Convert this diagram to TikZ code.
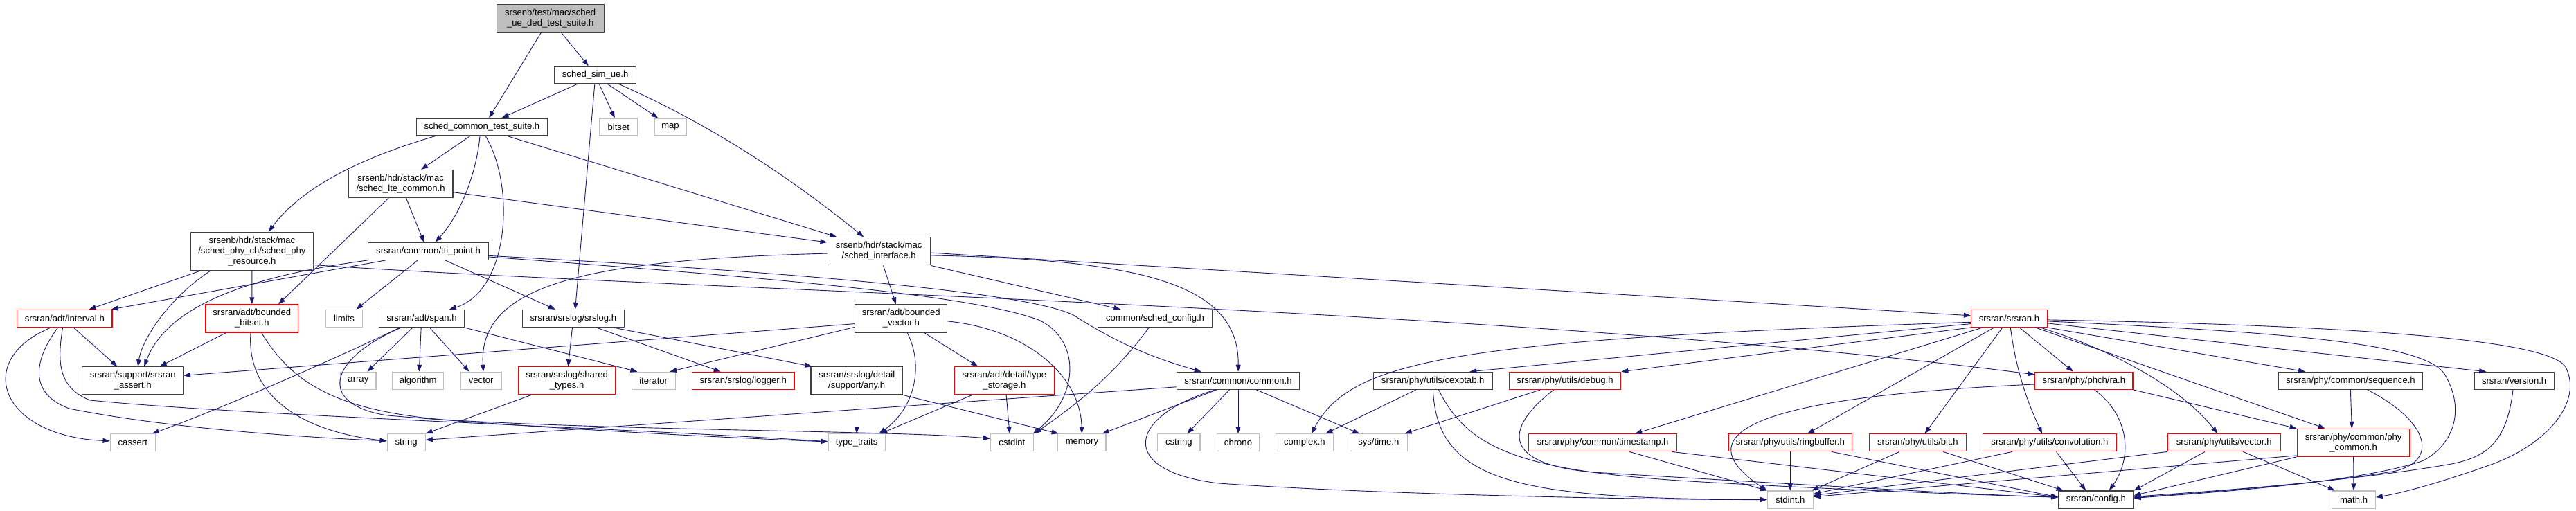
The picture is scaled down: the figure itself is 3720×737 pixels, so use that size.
\documentclass[tikz,border=0pt]{standalone}
\usepackage{fontspec}
\setmainfont{Liberation Sans}
\usetikzlibrary{arrows.meta}
\definecolor{edgec}{HTML}{191970}
\definecolor{gdark}{HTML}{404040}
\definecolor{glight}{HTML}{BFBFBF}
\definecolor{rednode}{HTML}{FF0000}
\newcommand\gfont{\fontsize{13.1}{15}\selectfont}
\begin{document}
\begin{tikzpicture}[x=1pt,y=-1pt,
  box/.style={rectangle,inner sep=0pt,minimum height=25pt,align=center,font=\gfont,line width=1.2pt,fill=white},
  blk/.style={box,draw=gdark},
  gry/.style={box,draw=glight},
  rd/.style={box,draw=rednode},
  topn/.style={box,draw=gdark,fill=glight},
  htwo/.style={minimum height=40pt},
  hthree/.style={minimum height=55pt},
  e/.style={draw=edgec,line width=0.9pt,-{Triangle[length=10pt,width=7pt]}}]
\useasboundingbox (0,0) rectangle (3720,737);
\fill[white] (0,0) rectangle (3720,737);
% nodes
\node[topn,htwo,minimum width=155.1] (top) at (794.7,26.2) {srsenb/test/mac/sched\\\_ue\_ded\_test\_suite.h};
\node[blk,minimum width=117.6] (simue) at (859.6,108.4) {sched\_sim\_ue.h};
\node[blk,minimum width=189.4] (ctest) at (695.9,183.5) {sched\_common\_test\_suite.h};
\node[gry,minimum width=55.1] (bitset) at (893.3,183.5) {bitset};
\node[gry,minimum width=46.1] (map) at (968,183.5) {map};
\node[blk,htwo,minimum width=150.6] (lte) at (578.6,265.5) {srsenb/hdr/stack/mac\\/sched\_lte\_common.h};
\node[blk,hthree,minimum width=176.7] (phyres) at (363.9,362.8) {srsenb/hdr/stack/mac\\/sched\_phy\_ch/sched\_phy\\\_resource.h};
\node[blk,minimum width=173.5] (tti) at (618.6,362.8) {srsran/common/tti\_point.h};
\node[blk,htwo,minimum width=148.2] (iface) at (1269.2,362.8) {srsenb/hdr/stack/mac\\/sched\_interface.h};
\node[rd,minimum width=137.5] (interval) at (93.3,459.9) {srsran/adt/interval.h};
\node[rd,htwo,minimum width=133.6] (bbitset) at (363.8,459.9) {srsran/adt/bounded\\\_bitset.h};
\node[gry,minimum width=53.5] (limits) at (497,459.9) {limits};
\node[blk,minimum width=122.4] (span) at (609,459.9) {srsran/adt/span.h};
\node[blk,minimum width=146.9] (srslog) at (827.8,459.9) {srsran/srslog/srslog.h};
\node[blk,htwo,minimum width=133.1] (bvector) at (1301.3,459.9) {srsran/adt/bounded\\\_vector.h};
\node[blk,minimum width=164.5] (schedcfg) at (1668,459.9) {common/sched\_config.h};
\node[rd,minimum width=109.8] (srsranh) at (2901.4,459.9) {srsran/srsran.h};
\node[blk,htwo,minimum width=145.7] (assert) at (191.7,549.8) {srsran/support/srsran\\\_assert.h};
\node[gry,minimum width=51.1] (array) at (517.4,549.8) {array};
\node[gry,minimum width=74.3] (algorithm) at (603.7,549.8) {algorithm};
\node[gry,minimum width=58.8] (vector) at (694.7,549.8) {vector};
\node[rd,htwo,minimum width=140] (shared) at (818.6,549.8) {srsran/srslog/shared\\\_types.h};
\node[gry,minimum width=62.9] (iterator) at (943.7,549.8) {iterator};
\node[rd,minimum width=147.3] (logger) at (1073.3,549.8) {srsran/srslog/logger.h};
\node[blk,htwo,minimum width=132.3] (any) at (1237.2,549.8) {srsran/srslog/detail\\/support/any.h};
\node[rd,htwo,minimum width=144] (typestor) at (1450.4,549.8) {srsran/adt/detail/type\\\_storage.h};
\node[blk,minimum width=177.5] (commonh) at (1788,549.8) {srsran/common/common.h};
\node[blk,minimum width=171.8] (cexptab) at (2069.2,549.8) {srsran/phy/utils/cexptab.h};
\node[rd,minimum width=161.6] (debug) at (2260,549.8) {srsran/phy/utils/debug.h};
\node[rd,minimum width=141.2] (ra) at (3009.4,549.8) {srsran/phy/phch/ra.h};
\node[blk,minimum width=208.6] (sequence) at (3394.5,549.8) {srsran/phy/common/sequence.h};
\node[blk,minimum width=115.1] (version) at (3630.6,549.8) {srsran/version.h};
\node[gry,minimum width=65.3] (cassert) at (191.8,639.3) {cassert};
\node[gry,minimum width=55.1] (string) at (586.7,639.3) {string};
\node[gry,minimum width=82.5] (typetraits) at (1237.2,639.3) {type\_traits};
\node[gry,minimum width=61.6] (cstdint) at (1461.4,639.3) {cstdint};
\node[gry,minimum width=69.3] (memory) at (1562.4,639.3) {memory};
\node[gry,minimum width=61.3] (cstring) at (1702.4,639.3) {cstring};
\node[gry,minimum width=61.7] (chrono) at (1788,639.3) {chrono};
\node[gry,minimum width=82.9] (complex) at (1883.9,639.3) {complex.h};
\node[gry,minimum width=82.8] (systime) at (1990.8,639.3) {sys/time.h};
\node[rd,minimum width=213.4] (timestamp) at (2314.5,639.3) {srsran/phy/common/timestamp.h};
\node[rd,minimum width=178.8] (ringbuf) at (2585.3,639.3) {srsran/phy/utils/ringbuffer.h};
\node[rd,minimum width=140.4] (bit) at (2769.4,639.3) {srsran/phy/utils/bit.h};
\node[rd,minimum width=192.3] (conv) at (2959.9,639.3) {srsran/phy/utils/convolution.h};
\node[rd,minimum width=162.9] (vech) at (3211.7,639.3) {srsran/phy/utils/vector.h};
\node[rd,htwo,minimum width=162.9] (phycommon) at (3398.6,639.3) {srsran/phy/common/phy\\\_common.h};
\node[gry,minimum width=66.2] (stdint) at (2585.3,721.5) {stdint.h};
\node[blk,minimum width=108.3] (config) at (3026.9,721.5) {srsran/config.h};
\node[gry,minimum width=62.4] (math) at (3399,721.5) {math.h};
% edges
\begin{scope}[on background layer/.style={}]
\draw[e] ([xshift=-13.1]top.south) -- ([xshift=10.2]ctest.north);
\draw[e] ([xshift=15.5]top.south) -- ([xshift=-9.8]simue.north);
\draw[e] ([xshift=-26.1]simue.south) -- ([xshift=28.6]ctest.north);
\draw[e] ([xshift=-0.8]simue.south) -- ([xshift=2.8]srslog.north);
\draw[e] ([xshift=5.7]simue.south) -- ([xshift=-5.5]bitset.north);
\draw[e] ([xshift=18]simue.south) -- ([xshift=-17.8]map.north);
\draw[e] ([xshift=34.3]simue.south) .. controls (1024,179) and (1137,253) .. ([xshift=-22]iface.north);
\draw[e] ([xshift=-67.3]ctest.south) .. controls (508,232) and (433,275) .. ([xshift=23.9]phyres.north);
\draw[e] ([xshift=-17.1]ctest.south) -- ([xshift=29.6]lte.north);
\draw[e] ([xshift=-2.8]ctest.south) .. controls (688,250) and (665,310) .. ([xshift=10]tti.north);
\draw[e] ([xshift=5.3]ctest.south) .. controls (745,270) and (735,420) .. ([xshift=40]span.north);
\draw[e] ([xshift=36.8]ctest.south) -- ([xshift=-61]iface.north);
\draw[e] ([xshift=-17.4]lte.south) -- ([xshift=38.2]bbitset.north);
\draw[e] ([xshift=7.9]lte.south) -- ([xshift=-6.4]tti.north);
\draw[e] ([yshift=-12.2]lte.east) -- ([yshift=12.8]iface.west);
\draw[e] ([xshift=-74.1]phyres.south) -- ([xshift=35.3]interval.north);
\draw[e] ([xshift=-59.8]phyres.south) .. controls (244,430) and (205,490) .. ([xshift=7.5]assert.north);
\draw[e] (phyres.south) -- (bbitset.north);
\draw[e] ([yshift=-19.8]phyres.east) .. controls (1000,420) and (2200,445) .. ([yshift=8.9]ra.west);
\draw[e] ([xshift=-61.5]tti.south) -- ([xshift=-2]interval.north east);
\draw[e] (tti.south west) .. controls (350,400) and (240,445) .. ([xshift=16.5]assert.north);
\draw[e] ([xshift=-15.3]tti.south) -- ([xshift=17.3]limits.north);
\draw[e] ([xshift=24.3]tti.south) -- ([xshift=-25.8]srslog.north);
\draw[e] ([yshift=-6.6]tti.east) .. controls (1100,390) and (1480,420) .. (1550,455) .. controls (1590,480) and (1640,510) .. ([xshift=-53.3]commonh.north);
\draw[e] ([yshift=-8.2]tti.east) .. controls (1100,400) and (1400,425) .. (1500,462) .. controls (1560,490) and (1560,570) .. ([xshift=30.6]cstdint.north);
\draw[e] ([yshift=-3.3]iface.west) .. controls (850,375) and (690,410) .. ([xshift=3.3]vector.north);
\draw[e] ([xshift=6.3]iface.south) -- ([xshift=-7.4]bvector.north);
\draw[e] (iface.south east) -- ([xshift=-49.6]schedcfg.north);
\draw[e] ([yshift=-6.1]iface.east) .. controls (1650,375) and (1790,410) .. (commonh.north);
\draw[e] ([yshift=-2.3]iface.east) -- ([yshift=4.1]srsranh.west);
\draw[e] ([xshift=-1.3]srslog.south) -- ([xshift=1.8]shared.north);
\draw[e] ([xshift=33.4]srslog.south) -- ([xshift=-32.5]logger.north);
\draw[e] ([xshift=57.9]srslog.south) -- ([xshift=2]any.north west);
\draw[e] ([xshift=-13.1]span.south) -- ([xshift=13.2]array.north);
\draw[e] ([xshift=-0.8]span.south) -- ([xshift=1.6]algorithm.north);
\draw[e] ([xshift=11.4]span.south) -- ([xshift=-17.1]vector.north);
\draw[e] (span.south east) -- ([xshift=-23.3]iterator.north);
\draw[e] ([xshift=-31.4]span.south) .. controls (480,520) and (320,590) .. ([xshift=28]cassert.north);
\draw[e] ([xshift=-29.4]span.south) .. controls (470,520) and (460,585) .. (560,600) .. controls (800,620) and (1050,632) .. ([yshift=1.3]typetraits.west);
\draw[e] ([xshift=-19.8]interval.south) .. controls (-40,520) and (0,630) .. ([yshift=2.5]cassert.west);
\draw[e] ([xshift=-9.6]interval.south) .. controls (45,525) and (45,570) .. (100,590) .. controls (250,620) and (450,632) .. ([yshift=2.5]string.west);
\draw[e] ([xshift=-2.7]interval.south) .. controls (82,525) and (85,560) .. (130,578) .. controls (350,600) and (900,618) .. ([yshift=1.6]typetraits.west);
\draw[e] ([xshift=12.8]interval.south) -- ([xshift=-22.3]assert.north);
\draw[e] ([xshift=-37.3]bbitset.south) -- ([xshift=38.9]assert.north);
\draw[e] ([xshift=-1.8]bbitset.south) .. controls (355,580) and (450,625) .. ([yshift=2.5]string.west);
\draw[e] ([xshift=13.8]bbitset.south) .. controls (420,550) and (480,592) .. (640,606) .. controls (900,622) and (1300,622) .. ([yshift=6]cstdint.west);
\draw[e] ([xshift=-51.3]shared.south) -- (string.north east);
\draw[e] ([yshift=-7.7]bvector.west) -- ([yshift=7.5]assert.east);
\draw[e] ([yshift=-12.5]bvector.west) -- ([xshift=23.6]iterator.north);
\draw[e] ([xshift=8.9]bvector.south) .. controls (1335,530) and (1320,590) .. ([xshift=32.2]typetraits.north);
\draw[e] ([xshift=33.4]bvector.south) -- ([xshift=-38.2]typestor.north);
\draw[e] ([yshift=-4]bvector.east) .. controls (1480,475) and (1560,540) .. (memory.north);
\draw[e] (any.south) -- (typetraits.north);
\draw[e] (any.south east) -- ([xshift=-33.8]memory.north);
\draw[e] ([xshift=-46.3]typestor.south) -- ([xshift=34.2]typetraits.north);
\draw[e] ([xshift=2.7]typestor.south) -- ([xshift=-3.4]cstdint.north);
\draw[e] ([xshift=-8.8]schedcfg.south) .. controls (1610,540) and (1560,580) .. ([xshift=32.5]cstdint.north);
\draw[e] ([xshift=-30.9]commonh.south) -- ([xshift=29.4]memory.north);
\draw[e] ([xshift=-12.5]commonh.south) -- ([xshift=11.9]cstring.north);
\draw[e] (commonh.south) -- (chrono.north);
\draw[e] ([yshift=-9]commonh.west) -- ([yshift=4]string.east);
\draw[e] ([xshift=26.3]commonh.south) -- ([xshift=-27.5]systime.north);
\draw[e] ([xshift=-32.9]commonh.south) .. controls (1630,600) and (1610,680) .. (1760,698) .. controls (2000,715) and (2400,722) .. (stdint.west);
\draw[e] ([xshift=-24.3]cexptab.south) -- ([xshift=30.4]complex.north);
\draw[e] ([xshift=0.2]cexptab.south) .. controls (2075,700) and (2200,720) .. (stdint.west);
\draw[e] ([xshift=8.4]cexptab.south) .. controls (2120,650) and (2200,680) .. (2440,695) .. controls (2700,710) and (2900,716) .. ([yshift=3.5]config.west);
\draw[e] ([xshift=-35.5]debug.south) -- ([xshift=37.8]systime.north);
\draw[e] ([xshift=-16.3]debug.south) .. controls (2170,620) and (2170,670) .. (2300,682) .. controls (2600,700) and (2900,717) .. ([yshift=3.5]config.west);
\draw[e] ([xshift=38.5]timestamp.south) -- (stdint.north west);
\draw[e] ([xshift=99.8]timestamp.south) -- ([yshift=3.5]config.west);
\draw[e] (ringbuf.south) -- (stdint.north);
\draw[e] ([xshift=59.6]ringbuf.south) -- ([yshift=3.5]config.west);
\draw[e] ([xshift=-26.5]bit.south) -- ([xshift=31]stdint.north);
\draw[e] ([xshift=36.7]bit.south) -- ([xshift=-47.3]config.north);
\draw[e] ([xshift=-53.8]conv.south) -- ([yshift=8.2]stdint.east);
\draw[e] ([xshift=9.5]conv.south) -- ([xshift=-14.7]config.north);
\draw[e] ([yshift=-5.2]ra.west) .. controls (2560,572) and (2420,620) .. (stdint.north west);
\draw[e] ([xshift=15.1]ra.south) .. controls (3075,600) and (3080,660) .. ([xshift=19]config.north);
\draw[e] (ra.south east) -- (phycommon.north west);
\draw[e] (vech.south west) -- ([yshift=6]stdint.east);
\draw[e] ([xshift=-27.6]vech.south) -- (config.north east);
\draw[e] ([xshift=27.5]vech.south) -- ([xshift=-27.2]math.north);
\draw[e] (phycommon.south west) -- ([yshift=6]config.east);
\draw[e] ([yshift=2]phycommon.south west) -- ([yshift=4]stdint.east);
\draw[e] (phycommon.south) -- (math.north);
\draw[e] ([xshift=-0.2]sequence.south) -- ([xshift=-2.3]phycommon.north);
\draw[e] ([xshift=24.3]sequence.south) .. controls (3510,610) and (3520,665) .. (3460,680) .. controls (3350,700) and (3150,712) .. ([yshift=4]config.east);
\draw[e] ([xshift=-1.6]version.south) .. controls (3620,640) and (3590,660) .. (3540,670) .. controls (3400,695) and (3150,714) .. ([yshift=3]config.east);
\draw[e] ([yshift=-4]srsranh.east) .. controls (3300,480) and (3500,495) .. (3530,540) .. controls (3560,590) and (3545,640) .. (3500,665) .. controls (3400,700) and (3150,714) .. ([yshift=2]config.east);
\draw[e] ([yshift=-2]srsranh.east) .. controls (3400,470) and (3680,490) .. (3705,530) .. controls (3730,580) and (3680,640) .. (3600,670) .. controls (3530,695) and (3470,712) .. ([yshift=3.5]math.east);
\draw[e] ([yshift=-7]srsranh.east) -- ([xshift=-40.4]version.north);
\draw[e] (srsranh.south east) -- ([xshift=-65.5]sequence.north);
\draw[e] ([xshift=38]srsranh.south) -- ([xshift=-41]phycommon.north);
\draw[e] ([xshift=45]srsranh.south) .. controls (3050,505) and (3150,560) .. ([xshift=-9.3]vech.north);
\draw[e] ([xshift=14.9]srsranh.south) -- ([xshift=-15.5]ra.north);
\draw[e] ([xshift=1.9]srsranh.south) .. controls (2912,540) and (2930,585) .. ([xshift=-10.9]conv.north);
\draw[e] ([xshift=-9.6]srsranh.south) -- ([xshift=10.2]bit.north);
\draw[e] ([xshift=-21.8]srsranh.south) -- ([xshift=24.9]ringbuf.north);
\draw[e] ([xshift=-38.1]srsranh.south) -- ([xshift=46.7]timestamp.north);
\draw[e] (srsranh.south west) -- (debug.north east);
\draw[e] ([yshift=-7.7]srsranh.west) -- ([xshift=53.2]cexptab.north);
\draw[e] ([yshift=-5.4]srsranh.west) .. controls (2100,490) and (1950,520) .. ([xshift=10]complex.north);
\end{scope}
\end{tikzpicture}
\end{document}
